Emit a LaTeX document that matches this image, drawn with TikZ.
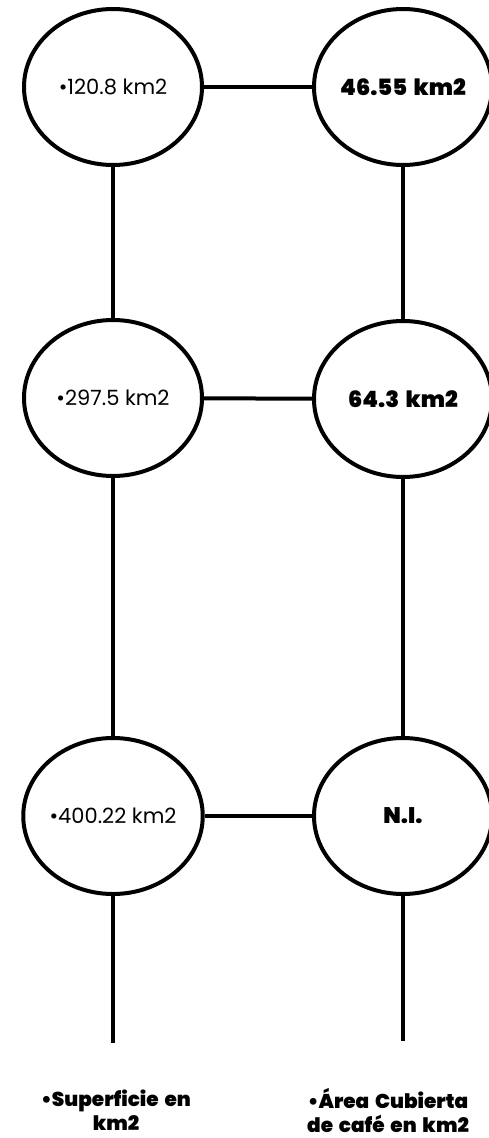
\documentclass[tikz,border=0pt]{standalone}
\usepackage{fontspec}
\setmainfont{Poppins}
\newfontfamily\heavy{Poppins Black}[WordSpace=1.7]
\usetikzlibrary{shapes.geometric}
\tikzset{
  circ/.style={ellipse, draw, line width=4pt, minimum width=178pt, minimum height=156pt, inner sep=0pt, font=\fontsize{21}{23}\selectfont},
  bnum/.style={font=\fontsize{22.5}{24}\selectfont\heavy},
  conn/.style={line width=4pt},
  lab/.style={align=center, font=\fontsize{20}{24}\selectfont\heavy}
}
\begin{document}
\begin{tikzpicture}[x=1pt,y=-1pt]
\useasboundingbox (0,0) rectangle (488,1138);
\node[circ] (l1) at (113,87) {•120.8 km2};
\node[circ] (l2) at (113,398) {•297.5 km2};
\node[circ] (l3) at (113,816) {•400.22 km2};
\node[circ,bnum] (r1) at (403,87) {46.55 km2};
\node[circ,bnum] (r2) at (403,399) {64.3 km2};
\node[circ,bnum] (r3) at (403,816) {N.I.};
\draw[conn] (l1) -- (r1);
\draw[conn] (l2) -- (r2);
\draw[conn] (l3) -- (r3);
\draw[conn] (l1.south) -- (l2.north);
\draw[conn] (l2.south) -- (l3.north);
\draw[conn] (r1.south) -- (r2.north);
\draw[conn] (r2.south) -- (r3.north);
\coordinate (le) at (113,1043);
\coordinate (re) at (403,1041);
\draw[conn] (l3.south) -- (le);
\draw[conn] (r3.south) -- (re);
\node[lab] (ls) at (116,1110) {•Superficie en\\km2};
\node[lab] (rs) at (388,1110) {•Área Cubierta\\de café en km2};
\end{tikzpicture}
\end{document}
